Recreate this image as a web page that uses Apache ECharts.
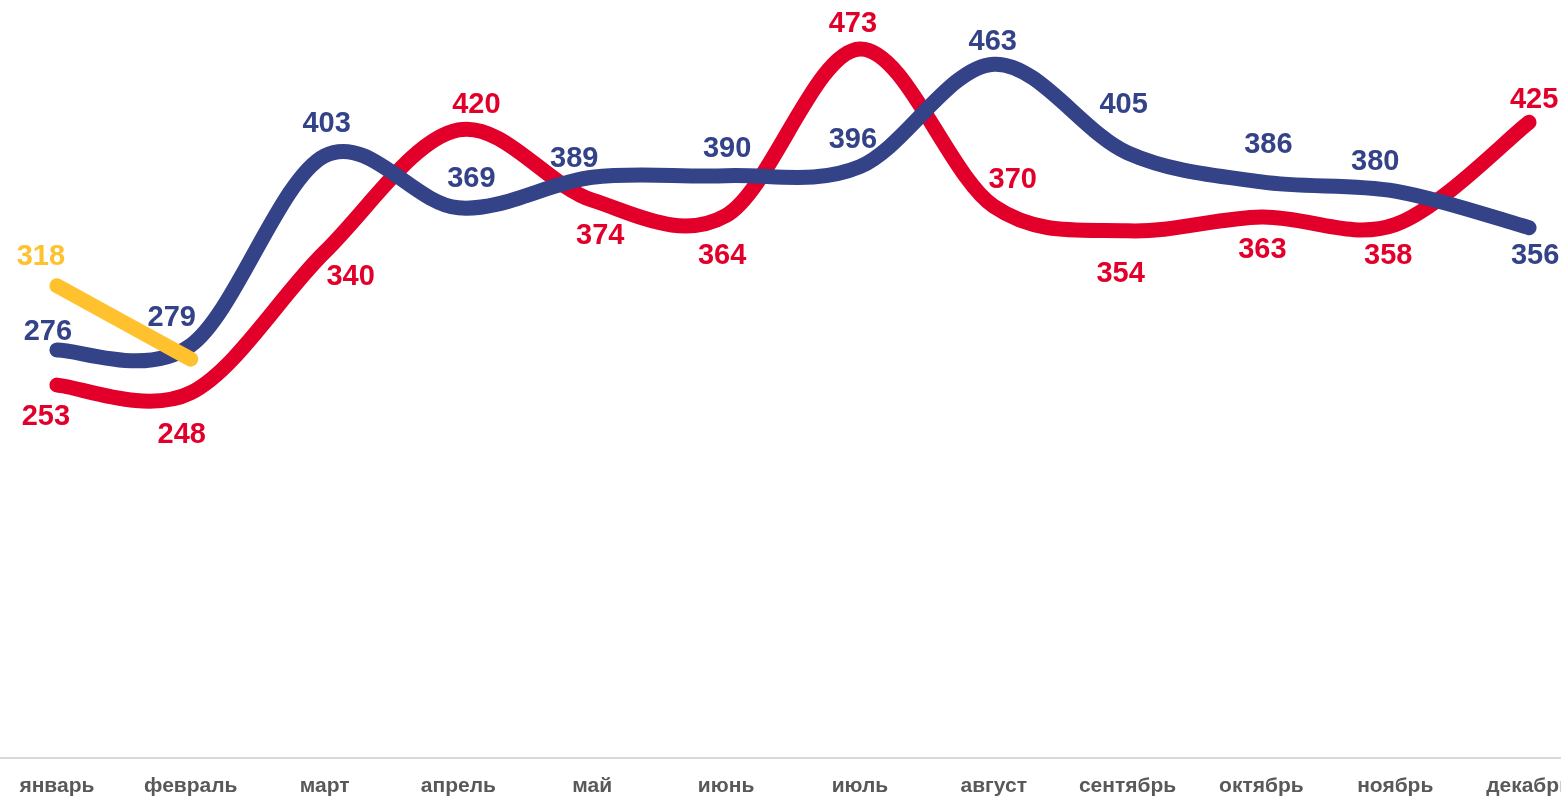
<!DOCTYPE html>
<html>
<head>
<meta charset="utf-8">
<script src="https://cdn.jsdelivr.net/npm/echarts@6/dist/echarts.min.js"></script>
<style>html,body{margin:0;padding:0;background:#fff;overflow:hidden;}#c{width:1561px;height:797px;}</style>
</head>
<body>
<div id="c"></div>
<script>
var categories = ['январь','февраль','март','апрель','май','июнь','июль','август','сентябрь','октябрь','ноябрь','декабрь'];
var redValues = [253,248,340,420,374,364,473,370,354,363,358,425];
var blueValues = [276,279,403,369,389,390,396,463,405,386,380,356];
var yellowValues = [318,270,null,null,null,null,null,null,null,null,null,null];
var yellowLabels = [true,false];

// label offsets (px) relative to each point
var redOffsets = [[-11,32],[-9,42],[26,25],[18,-25],[8,36],[-4,41],[-7,-25],[19,-26],[-7,43],[1,33],[-7,31],[5,-22]];
var blueOffsets = [[-9,-18],[-19,-27],[2,-32],[13,-29],[-18,-18],[1,-27],[-7,-27],[-1,-22],[-4,-48],[7,-37],[-20,-29],[6,28]];
var yellowOffsets = [[-16,-29],[0,0]];

var RED = '#E2002B', BLUE = '#344288', YELLOW = '#FFC22E';
var LW = 15;

function build(values, offsets, color, showArr){
  return values.map(function(v,i){
    if(v===null) return null;
    var show = showArr ? !!showArr[i] : true;
    return {value:v, label:{show:show, position:'inside', offset:offsets[i] || [0,0], color:color}};
  });
}

// Catmull-Rom style smoothed curve drawn through the axis coordinates of the data
function curveSeries(values, color, z){
  var idx = [];
  values.forEach(function(v,i){ if(v!==null) idx.push(i); });
  return {
    type:'custom', coordinateSystem:'cartesian2d', z:z, silent:true,
    data:[[idx[0], values[idx[0]]]],
    renderItem:function(params, api){
      var p = idx.map(function(i){ return api.coord([i, values[i]]); });
      var n = p.length;
      var d = 'M' + p[0][0] + ' ' + p[0][1];
      for (var k=0; k<n-1; k++){
        var p0 = p[Math.max(k-1,0)], p1 = p[k], p2 = p[k+1], p3 = p[Math.min(k+2,n-1)];
        var c1x = p1[0] + (p2[0]-p0[0])/6, c1y = p1[1] + (p2[1]-p0[1])/6;
        var c2x = p2[0] - (p3[0]-p1[0])/6, c2y = p2[1] - (p3[1]-p1[1])/6;
        d += ' C' + c1x + ' ' + c1y + ' ' + c2x + ' ' + c2y + ' ' + p2[0] + ' ' + p2[1];
      }
      return {type:'path', shape:{pathData:d}, style:{fill:'none', stroke:color, lineWidth:LW, lineCap:'round', lineJoin:'round'}};
    }
  };
}

function labelSeries(values, offsets, color, showArr){
  return {type:'line', data:build(values, offsets, color, showArr), symbol:'circle', symbolSize:1, z:6,
    lineStyle:{opacity:0, width:0}, itemStyle:{color:color}, silent:true,
    label:{show:true, fontFamily:'Liberation Sans, Arial, sans-serif', fontWeight:'bold', fontSize:29}};
}

var chart = echarts.init(document.getElementById('c'));
chart.setOption({
  animation:false,
  grid:{left:-10, right:-35, top:0, bottom:39, containLabel:false, outerBoundsMode:'none'},
  xAxis:{
    type:'category', data:categories, boundaryGap:true,
    axisLine:{lineStyle:{color:'#D9D9D9', width:2}},
    axisTick:{show:false},
    axisLabel:{color:'#595959', fontWeight:'bold', fontSize:21, fontFamily:'Liberation Sans, Arial, sans-serif', margin:18, interval:0}
  },
  yAxis:{type:'value', min:9, max:505, show:false, splitLine:{show:false}},
  series:[
    curveSeries(redValues, RED, 2),
    curveSeries(blueValues, BLUE, 3),
    curveSeries(yellowValues, YELLOW, 4),
    labelSeries(redValues, redOffsets, RED),
    labelSeries(blueValues, blueOffsets, BLUE),
    labelSeries(yellowValues, yellowOffsets, YELLOW, yellowLabels)
  ]
});
</script>
</body>
</html>
